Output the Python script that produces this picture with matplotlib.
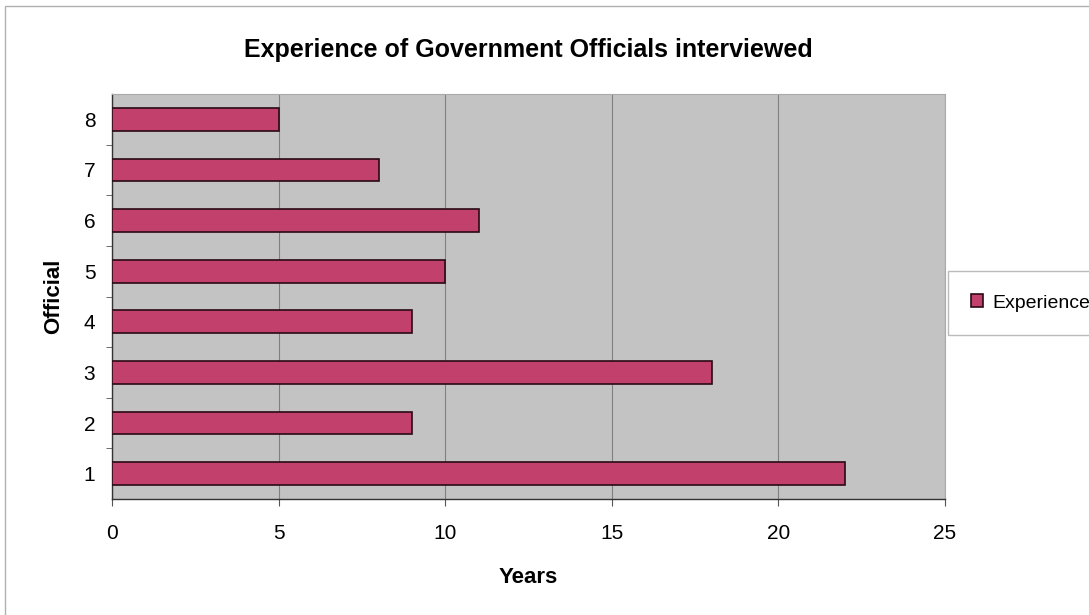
import matplotlib.pyplot as plt
from matplotlib.patches import Rectangle

plt.rcParams['font.family'] = ['Liberation Sans', 'DejaVu Sans']

officials = [1, 2, 3, 4, 5, 6, 7, 8]
years = [22, 9, 18, 9, 10, 11, 8, 5]
xticks = [0, 5, 10, 15, 20, 25]

fig = plt.figure(figsize=(10.89, 6.15), dpi=100)
ax = fig.add_axes([0.1028, 0.1886, 0.765, 0.6585])

# chart outer frame
fig.patches.append(Rectangle((0.005, -0.05), 1.2, 1.04, transform=fig.transFigure,
                             fill=False, edgecolor='#b0b0b0', linewidth=1))

ax.set_facecolor('#c3c3c3')
ax.barh(officials, years, height=0.45, color='#c2416c', edgecolor='#2a0a14',
        linewidth=1.2, label='Experience', zorder=3)

ax.set_xlim(0, 25)
ax.set_ylim(0.5, 8.5)
ax.set_xticks(xticks)
ax.set_yticks(officials)
ax.set_yticks([1.5, 2.5, 3.5, 4.5, 5.5, 6.5, 7.5], minor=True)
ax.tick_params(axis='y', which='major', length=0, labelsize=15, pad=12)
ax.tick_params(axis='y', which='minor', length=4, color='#555555')
ax.tick_params(axis='x', length=5, labelsize=15, pad=13, color='#555555')
ax.xaxis.grid(True, color='#808080', linewidth=0.8, zorder=0)

for side in ['top', 'right']:
    ax.spines[side].set_color('#aaaaaa')
    ax.spines[side].set_linewidth(0.8)
for side in ['left', 'bottom']:
    ax.spines[side].set_color('#333333')
    ax.spines[side].set_linewidth(1.0)

ax.set_title('Experience of Government Officials interviewed', fontsize=18,
             fontweight='bold', pad=27)
ax.set_xlabel('Years', fontsize=16, fontweight='bold', labelpad=17)
ax.set_ylabel('Official', fontsize=16, fontweight='bold', labelpad=14)

leg = ax.legend(loc='center left', bbox_to_anchor=(1.0, 0.484), fontsize=14,
                frameon=True, fancybox=False, handlelength=0.6, handleheight=0.6,
                handletextpad=0.5, borderpad=1.2, borderaxespad=0.15)
leg.get_frame().set_edgecolor('#aaaaaa')
leg.get_frame().set_linewidth(1.0)

fig.savefig('out.png', dpi=100)
